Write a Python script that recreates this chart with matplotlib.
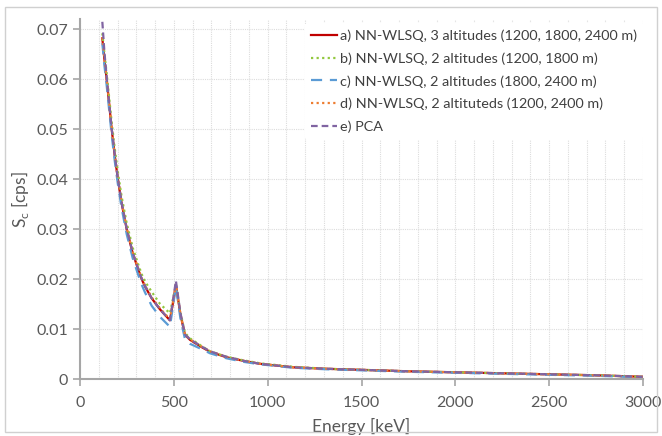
import matplotlib
matplotlib.use("Agg")
import matplotlib.pyplot as plt
from matplotlib.patches import Rectangle
from matplotlib.ticker import MultipleLocator, FuncFormatter

plt.rcParams['font.family'] = ['Lato', 'DejaVu Sans']

energy = [119, 130, 142, 155, 169, 185, 202, 222, 249, 281, 311, 329, 346, 382,
          426, 479, 495, 511, 535, 559, 586, 650, 693, 781, 870, 959, 1136,
          1314, 1492, 1750, 2000, 2250, 2500, 2750, 3000]

s_a = [0.0682, 0.0640, 0.0600, 0.0552, 0.0500, 0.0448, 0.0400, 0.0352, 0.0300,
       0.0252, 0.0219, 0.0200, 0.0186, 0.0162, 0.0140, 0.0118, 0.0152, 0.0189,
       0.0130, 0.0089, 0.0079, 0.0064, 0.0055, 0.0044, 0.0037, 0.0031, 0.0024,
       0.0021, 0.0019, 0.0016, 0.0014, 0.0012, 0.0010, 0.0008, 0.0005]
s_b = [0.0692, 0.0652, 0.0612, 0.0565, 0.0513, 0.0462, 0.0414, 0.0365, 0.0312,
       0.0263, 0.0229, 0.0210, 0.0196, 0.0175, 0.0151, 0.0132, 0.0160, 0.0188,
       0.0134, 0.0093, 0.0082, 0.0066, 0.0056, 0.0045, 0.0038, 0.0032, 0.0025,
       0.0021, 0.0019, 0.0016, 0.0014, 0.0012, 0.0010, 0.0008, 0.0005]
s_c = [0.0672, 0.0628, 0.0588, 0.0540, 0.0488, 0.0437, 0.0390, 0.0342, 0.0290,
       0.0242, 0.0208, 0.0189, 0.0174, 0.0147, 0.0125, 0.0105, 0.0145, 0.0185,
       0.0122, 0.0081, 0.0071, 0.0060, 0.0052, 0.0042, 0.0035, 0.0030, 0.0023,
       0.0020, 0.0018, 0.0015, 0.0013, 0.0011, 0.0009, 0.0007, 0.0004]
s_d = [0.0684, 0.0642, 0.0602, 0.0554, 0.0502, 0.0450, 0.0402, 0.0354, 0.0302,
       0.0254, 0.0221, 0.0202, 0.0188, 0.0164, 0.0142, 0.0120, 0.0153, 0.0189,
       0.0131, 0.0090, 0.0080, 0.0065, 0.0056, 0.0045, 0.0037, 0.0031, 0.0024,
       0.0021, 0.0019, 0.0016, 0.0014, 0.0012, 0.0010, 0.0008, 0.0005]
s_e = [0.0715, 0.0655, 0.0605, 0.0554, 0.0501, 0.0449, 0.0401, 0.0353, 0.0301,
       0.0253, 0.0220, 0.0201, 0.0187, 0.0162, 0.0140, 0.0118, 0.0156, 0.0197,
       0.0133, 0.0090, 0.0080, 0.0065, 0.0056, 0.0045, 0.0037, 0.0031, 0.0024,
       0.0021, 0.0019, 0.0016, 0.0014, 0.0012, 0.0010, 0.0008, 0.0005]

labels = ["a) NN-WLSQ, 3 altitudes (1200, 1800, 2400 m)",
          "b) NN-WLSQ, 2 altitudes (1200, 1800 m)",
          "c) NN-WLSQ, 2 altitudes (1800, 2400 m)",
          "d) NN-WLSQ, 2 altituteds (1200, 2400 m)",
          "e) PCA"]

fig = plt.figure(figsize=(6.62, 4.36), dpi=100)
fig.patches.append(Rectangle((5 / 662, 4 / 436), 652 / 662, 425 / 436,
                             transform=fig.transFigure, fill=False,
                             edgecolor='#d0d0d0', linewidth=1.0))
ax = fig.add_axes([80 / 662, (436 - 379.3) / 436, 563 / 662, (379.3 - 19) / 436])

ax.plot(energy, s_a, color='#C00000', lw=1.6, ls='-', label=labels[0])
ax.plot(energy, s_b, color='#92C83E', lw=1.6, ls=(0, (1, 1.5)), label=labels[1])
ax.plot(energy, s_c, color='#5B9BD5', lw=1.6, ls=(0, (5, 3.5)), label=labels[2])
ax.plot(energy, s_d, color='#ED7D31', lw=1.6, ls=(0, (1, 1.5)), label=labels[3])
ax.plot(energy, s_e, color='#8064A2', lw=1.6, ls=(0, (3, 1.8)), label=labels[4])

ax.set_xlim(0, 3000)
ax.set_ylim(0, 0.07206)
ax.xaxis.set_major_locator(MultipleLocator(500))
ax.xaxis.set_minor_locator(MultipleLocator(100))
ax.yaxis.set_major_locator(MultipleLocator(0.01))
ax.yaxis.set_major_formatter(FuncFormatter(lambda v, p: '0' if v == 0 else f'{v:.2f}'))

ax.grid(which='both', axis='x', color='#dcdcdc', lw=0.8, ls=(0, (1, 1)))
ax.grid(which='major', axis='y', color='#dcdcdc', lw=0.8, ls=(0, (1, 1)))
ax.set_axisbelow(True)

for s in ['top', 'right']:
    ax.spines[s].set_visible(False)
for s in ['left', 'bottom']:
    ax.spines[s].set_color('#a6a6a6')
    ax.spines[s].set_linewidth(1.5)

ax.tick_params(which='major', direction='out', length=5, width=1.2,
               color='#a6a6a6', labelcolor='#595959', labelsize=11.5)
ax.tick_params(axis='x', which='major', pad=7)
ax.tick_params(which='minor', length=0)

ax.set_xlabel('Energy [keV]', fontsize=12.5, color='#595959', labelpad=6)
ax.set_ylabel(r'S$_\mathregular{c}$ [cps]', fontsize=12.5, color='#595959')

leg = ax.legend(loc='upper right', bbox_to_anchor=(1.0, 0.99), frameon=True,
                fontsize=10.4, handlelength=1.75, handletextpad=0.2,
                labelspacing=0.72, borderpad=0.45, borderaxespad=0.0)
leg.get_frame().set_edgecolor('none')
leg.get_frame().set_facecolor('white')
leg.get_frame().set_alpha(1.0)
for t in leg.get_texts():
    t.set_color('#404040')

fig.savefig('out.png', dpi=100)
